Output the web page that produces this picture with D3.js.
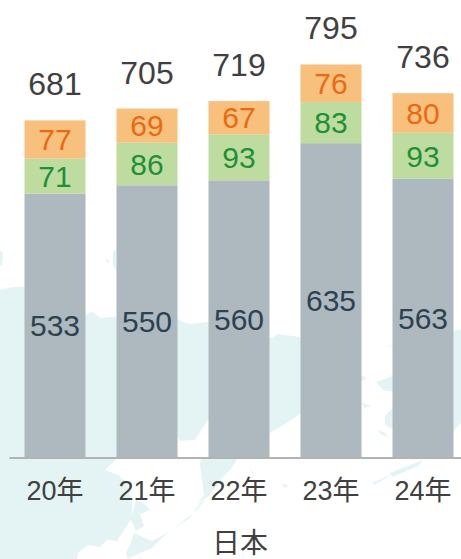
<!DOCTYPE html>
<html>
<head>
<meta charset="utf-8">
<script src="https://cdn.jsdelivr.net/npm/d3@7"></script>
<style>
  html, body { margin: 0; padding: 0; background: #fff; overflow: hidden; }
  text { font-family: "Liberation Sans", "Noto Sans CJK JP", sans-serif; }
</style>
</head>
<body>
<div id="plot"></div>
<script>
var years = ["20年", "21年", "22年", "23年", "24年"];
var base = [533, 550, 560, 635, 563];
var middle = [71, 86, 93, 83, 93];
var upper = [77, 69, 67, 76, 80];
var totals = [681, 705, 719, 795, 736];
var title = "日本";

var width = 461, height = 559;

var rows = years.map(function (y, i) {
  return { year: y, base: base[i], middle: middle[i], upper: upper[i], total: totals[i] };
});

var barColor = { base: "#adb8bf", middle: "#bfdca0", upper: "#f7c07c" };
var labelColor = { base: "#2c4250", middle: "#1f9038", upper: "#ea6a14" };
var labelSize = { base: 30, middle: 30, upper: 30 };

var svg = d3.select("#plot")
  .append("svg")
  .attr("width", width)
  .attr("height", height)
  .style("display", "block");

// faint map behind the chart, traced by eye
var mapShapes = [
  [[0,290],[12,287],[30,287],[60,290],[85,316],[88,313],[93,312],[100,318],[110,317],[130,317],[178,319],[183,322],[190,324],[208,322],[240,328],[272,338],[278,334],[300,337],[320,345],[320,400],[300,414],[285,424],[270,433],[240,430],[208,420],[200,432],[195,440],[180,441],[178,437],[140,458],[117,458],[105,470],[118,475],[126,482],[132,501],[132,518],[117,541],[107,540],[100,547],[88,545],[78,553],[77,559],[0,559]],
  [[136,500],[146,505],[150,510],[140,514],[144,526],[136,531],[131,520]],
  [[134,533],[143,537],[152,541],[160,537],[190,518],[200,503],[205,500],[195,512],[165,535],[152,548],[140,553],[128,559],[126,553],[130,545]],
  [[201,458],[200,465],[204,495],[197,504],[210,495],[222,478],[230,470],[238,458]],
  [[383,347],[395,346],[395,375],[376,382],[383,390],[395,392],[395,345]],
  [[395,405],[385,416],[385,425],[395,430]],
  [[360,375],[367,378],[360,382]],
  [[360,402],[371,406],[365,408]],
  [[378,430],[385,433],[388,437],[380,434]],
  [[450,332],[461,329],[461,423],[450,435]],
  [[390,473],[423,460],[418,466],[392,477]],
  [[372,483],[390,475],[388,477],[374,485]],
  [[250,468],[254,474],[252,474]],
  [[282,483],[288,486],[285,488]],
  [[230,462],[236,461],[232,466]],
  [[0,250],[3,253],[2,265],[0,266]],
  [[106,257],[109,262],[107,263]],
  [[113,252],[116,250],[116,270],[113,265]]
];

svg.append("g")
  .selectAll("path")
  .data(mapShapes)
  .enter().append("path")
  .attr("d", d3.line().curve(d3.curveLinearClosed))
  .attr("fill", "#e4f4f4");

var x = d3.scaleBand()
  .domain(years)
  .range([9, 469])
  .paddingInner(31 / 92)
  .paddingOuter(31 / 184);

var y = d3.scaleLinear()
  .domain([0, 800])
  .range([457.5, 61.5]);

var stackedData = d3.stack().keys(["base", "middle", "upper"])(rows);

var layers = svg.append("g")
  .selectAll("g")
  .data(stackedData)
  .enter().append("g")
  .attr("fill", function (d) { return barColor[d.key]; });

layers.selectAll("rect")
  .data(function (d) { return d; })
  .enter().append("rect")
  .attr("x", function (d) { return x(d.data.year); })
  .attr("y", function (d) { return y(d[1]); })
  .attr("width", x.bandwidth())
  .attr("height", function (d) { return y(d[0]) - y(d[1]); });

// value inside each segment
layers.each(function (layer) {
  d3.select(this).selectAll("text")
    .data(layer)
    .enter().append("text")
    .attr("x", function (d) { return x(d.data.year) + x.bandwidth() / 2; })
    .attr("y", function (d) { return (y(d[0]) + y(d[1])) / 2; })
    .attr("dy", "0.36em")
    .attr("text-anchor", "middle")
    .attr("font-size", labelSize[layer.key])
    .attr("fill", labelColor[layer.key])
    .text(function (d) { return d.data[layer.key]; });
});

// totals above the bars
svg.append("g")
  .selectAll("text")
  .data(rows)
  .enter().append("text")
  .attr("x", function (d) { return x(d.year) + x.bandwidth() / 2; })
  .attr("y", function (d) { return y(d.base + d.middle + d.upper) - 25; })
  .attr("text-anchor", "middle")
  .attr("font-size", 32)
  .attr("fill", "#404040")
  .text(function (d) { return d.total; });

var axis = svg.append("g")
  .attr("transform", "translate(0,457.5)")
  .call(d3.axisBottom(x).tickSize(0).tickPadding(23));

axis.select(".domain")
  .attr("stroke", "#b3b3b3")
  .attr("stroke-width", 2);

axis.selectAll("text")
  .attr("font-family", null)
  .attr("font-size", 27)
  .attr("fill", "#404040");

svg.append("text")
  .attr("x", 240)
  .attr("y", 553)
  .attr("text-anchor", "middle")
  .attr("font-size", 28)
  .attr("fill", "#404040")
  .text(title);
</script>
</body>
</html>
